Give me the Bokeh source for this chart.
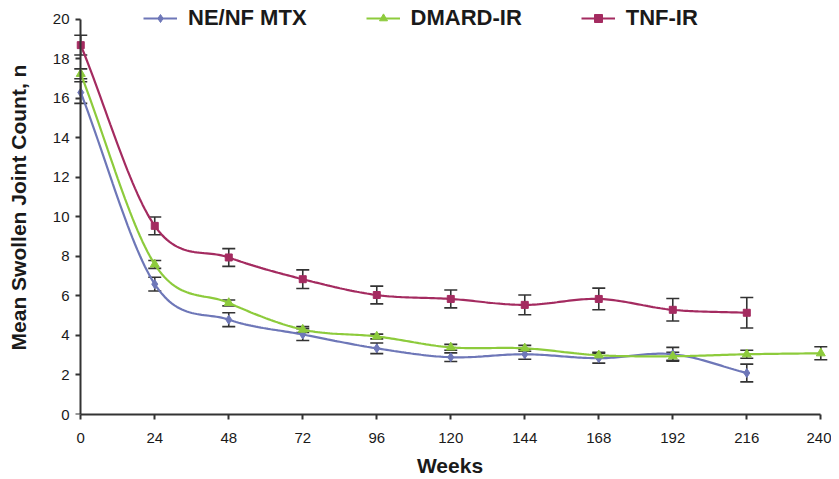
import numpy as np
from bokeh.plotting import figure
from bokeh.models import (ColumnDataSource, Whisker, TeeHead, Legend, LegendItem,
                          FixedTicker, Range1d, LinearAxis)
from bokeh.embed import file_html
from bokeh.resources import INLINE

# ---------------- data ----------------
weeks_mtx = [0, 24, 48, 72, 96, 120, 144, 168, 192, 216]
mtx_mean = [16.3, 6.6, 4.8, 4.05, 3.35, 2.9, 3.05, 2.85, 3.05, 2.1]
mtx_err = [0.55, 0.35, 0.35, 0.3, 0.27, 0.22, 0.25, 0.25, 0.35, 0.45]

weeks_dmard = [0, 24, 48, 72, 96, 120, 144, 168, 192, 216, 240]
dmard_mean = [17.25, 7.6, 5.65, 4.3, 3.95, 3.4, 3.35, 3.0, 2.95, 3.05, 3.1]
dmard_err = [0.25, 0.2, 0.15, 0.15, 0.12, 0.15, 0.15, 0.15, 0.2, 0.2, 0.33]

weeks_tnf = [0, 24, 48, 72, 96, 120, 144, 168, 192, 216]
tnf_mean = [18.7, 9.55, 7.95, 6.85, 6.05, 5.85, 5.55, 5.85, 5.3, 5.15]
tnf_err = [0.5, 0.45, 0.45, 0.47, 0.45, 0.45, 0.5, 0.55, 0.57, 0.77]

series_names = ["NE/NF MTX", "DMARD-IR", "TNF-IR"]
x_ticks = [0, 24, 48, 72, 96, 120, 144, 168, 192, 216, 240]
y_ticks = [0, 2, 4, 6, 8, 10, 12, 14, 16, 18, 20]

# ---------------- styles ----------------
colors = ["#6e77b8", "#8dcb3c", "#a42b60"]
markers = ["diamond", "triangle", "square"]
marker_sizes = [9, 9, 7]
FONT = "Liberation Sans"
TXT = "#1a1a1a"
AX = "#333333"


def smooth(x, y, n=30):
    """Cubic Hermite (Catmull-Rom style) curve through the data points, for drawing."""
    x = np.asarray(x, float)
    y = np.asarray(y, float)
    m = np.zeros_like(y)
    m[1:-1] = (y[2:] - y[:-2]) / (x[2:] - x[:-2])
    m[0] = (y[1] - y[0]) / (x[1] - x[0])
    m[-1] = (y[-1] - y[-2]) / (x[-1] - x[-2])
    xs, ys = [], []
    for i in range(len(x) - 1):
        h = x[i + 1] - x[i]
        t = np.linspace(0, 1, n, endpoint=(i == len(x) - 2))
        h00 = 2 * t**3 - 3 * t**2 + 1
        h10 = t**3 - 2 * t**2 + t
        h01 = -2 * t**3 + 3 * t**2
        h11 = t**3 - t**2
        xs.extend(x[i] + t * h)
        ys.extend(h00 * y[i] + h10 * h * m[i] + h01 * y[i + 1] + h11 * h * m[i + 1])
    return xs, ys


p = figure(width=831, height=479,
           x_range=Range1d(-3, 242.5), y_range=Range1d(0, 20.96),
           output_backend="svg", toolbar_location=None,
           min_border_left=71, min_border_right=3, min_border_top=0, min_border_bottom=65)
p.outline_line_color = None
p.xgrid.grid_line_color = None
p.ygrid.grid_line_color = None
p.background_fill_color = "white"

items = []
all_data = [(weeks_mtx, mtx_mean, mtx_err), (weeks_dmard, dmard_mean, dmard_err),
            (weeks_tnf, tnf_mean, tnf_err)]
for i, (wx, wy, we) in enumerate(all_data):
    sx, sy = smooth(wx, wy)
    r_line = p.line(sx, sy, line_color=colors[i], line_width=2.2)
    src = ColumnDataSource(dict(x=wx, y=wy,
                                lo=[a - b for a, b in zip(wy, we)],
                                hi=[a + b for a, b in zip(wy, we)]))
    wh = Whisker(base="x", lower="lo", upper="hi", source=src,
                 line_color=AX, line_width=1.6,
                 upper_head=TeeHead(size=13, line_color=AX, line_width=1.6),
                 lower_head=TeeHead(size=13, line_color=AX, line_width=1.6))
    p.add_layout(wh)
    r_pt = p.scatter("x", "y", source=src, marker=markers[i], size=marker_sizes[i],
                     fill_color=colors[i], line_color=colors[i])
    items.append(LegendItem(label=series_names[i], renderers=[r_line, r_pt]))

legend = Legend(items=items, orientation="horizontal", location=(72, 383))
legend.background_fill_alpha = 0
legend.border_line_color = None
legend.label_text_font = FONT
legend.label_text_font_style = "bold"
legend.label_text_font_size = "22px"
legend.label_text_color = TXT
legend.glyph_width = 34
legend.label_standoff = 11
legend.spacing = 59
legend.padding = 0
legend.margin = 0
p.add_layout(legend)

# x axis
xa = p.xaxis[0]
xa.ticker = FixedTicker(ticks=x_ticks)
xa.bounds = (0, 240)
xa.axis_line_color = AX
xa.axis_line_width = 2
xa.major_tick_line_color = AX
xa.major_tick_line_width = 2
xa.major_tick_out = 5
xa.major_tick_in = 0
xa.major_label_standoff = 13
xa.axis_label = "Weeks"
xa.axis_label_standoff = 8

# y axis: labels + title at the panel edge (no line / ticks)
ya = p.yaxis[0]
ya.ticker = FixedTicker(ticks=y_ticks)
ya.axis_line_color = None
ya.major_tick_line_color = None
ya.major_tick_out = 0
ya.major_tick_in = 0
ya.major_label_standoff = 2
ya.axis_label = "Mean Swollen Joint Count, n"
ya.axis_label_standoff = 20

# y axis line + ticks drawn at week 0 (ticks as unlabeled minor ticks)
ya2 = LinearAxis(ticker=FixedTicker(ticks=[], minor_ticks=y_ticks),
                 fixed_location=0, bounds=(0, 20))
ya2.axis_line_color = AX
ya2.axis_line_width = 2
ya2.major_tick_line_color = None
ya2.minor_tick_line_color = AX
ya2.minor_tick_line_width = 2
ya2.minor_tick_in = 5
ya2.minor_tick_out = 0
ya2.major_label_standoff = 0
p.add_layout(ya2, "right")

for ax in (xa, ya):
    ax.minor_tick_line_color = None
    ax.major_label_text_font = FONT
    ax.major_label_text_font_size = "15px"
    ax.major_label_text_color = TXT
    ax.axis_label_text_font = FONT
    ax.axis_label_text_font_size = "21px"
    ax.axis_label_text_font_style = "bold"
    ax.axis_label_text_color = TXT

open("out.html", "w").write(file_html(p, INLINE))
